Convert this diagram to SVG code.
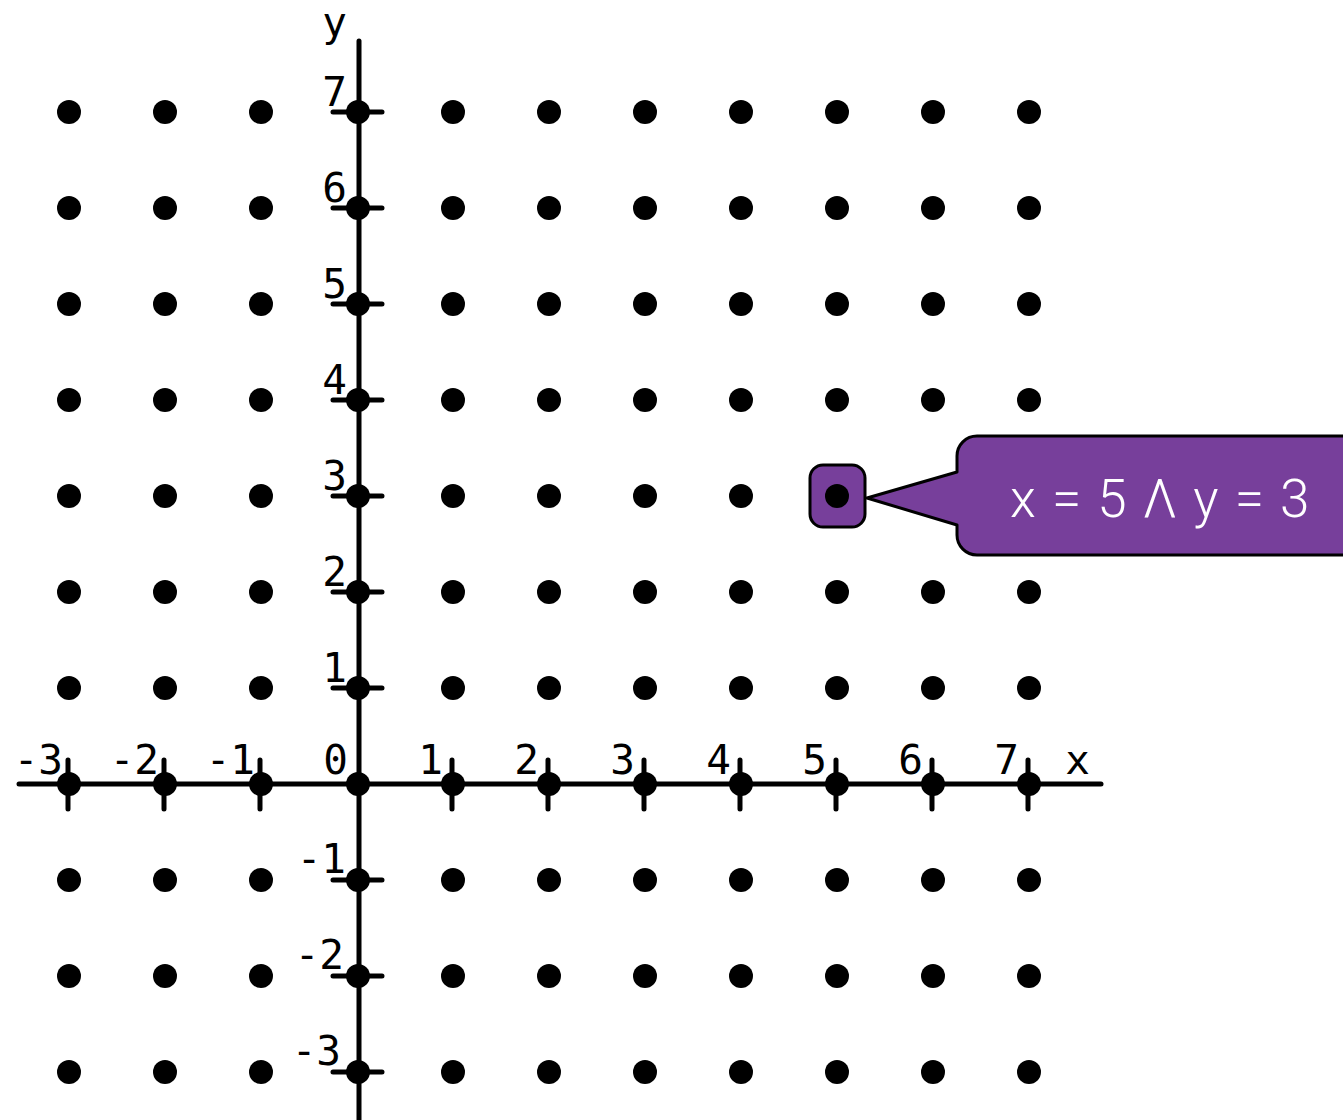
<svg xmlns="http://www.w3.org/2000/svg" width="1343" height="1120" viewBox="0 0 1343 1120">
<style>
.ax{stroke:#000;stroke-width:5;stroke-linecap:round;fill:none}
.tk{stroke:#000;stroke-width:5;stroke-linecap:round}
.dot{fill:#000}
.lx{font-family:"DejaVu Sans Mono",monospace;font-size:41px;fill:#000;text-anchor:end}
.cl{font-family:Roboto,"Noto Sans",sans-serif;font-weight:300;font-size:53px;letter-spacing:1.6px;fill:#fff}
</style>
<rect width="1343" height="1120" fill="#fff"/>
<g id="connectors">
<line class="ax" x1="19" y1="784" x2="1101" y2="784"/>
<line class="ax" x1="359" y1="41" x2="359" y2="1122"/>
</g>
<g id="ticks">
<path class="tk" d="M68 760V809M164 760V809M260 760V809M452 760V809M548 760V809M644 760V809M740 760V809M836 760V809M932 760V809M1028 760V809"/>
<path class="tk" d="M333 112H382M333 208H382M333 304H382M333 400H382M333 496H382M333 592H382M333 688H382M333 880H382M333 976H382M333 1072H382"/>
</g>
<g id="labels" class="lx">
<text x="63" y="774">-3</text><text x="159" y="774">-2</text><text x="255" y="774">-1</text><text x="348" y="774">0</text>
<text x="443" y="774">1</text><text x="539" y="774">2</text><text x="635" y="774">3</text><text x="731" y="774">4</text>
<text x="827" y="774">5</text><text x="923" y="774">6</text><text x="1019" y="774">7</text>
<text x="1090" y="774">x</text>
<text x="347" y="36">y</text>
<text x="347" y="106">7</text><text x="347" y="202">6</text><text x="347" y="298">5</text><text x="347" y="394">4</text>
<text x="347" y="490">3</text><text x="347" y="586">2</text><text x="347" y="682">1</text>
<text x="346" y="873">-1</text><text x="344" y="969">-2</text><text x="341" y="1065">-3</text>
</g>
<g id="callout">
<path d="M977 436H1362V555H977A20 20 0 0 1 957 535V525L867 498L957 472V456A20 20 0 0 1 977 436Z" fill="#773f9b" stroke="#000" stroke-width="3" stroke-linejoin="round"/>
<rect x="810" y="465" width="55" height="62" rx="13" fill="#773f9b" stroke="#000" stroke-width="3"/>
<text class="cl" x="1010" y="517">x = 5 Λ y = 3</text>
</g>
<g id="dots" class="dot">
<g id="r7"><circle cx="69" cy="112" r="12"/><circle cx="165" cy="112" r="12"/><circle cx="261" cy="112" r="12"/><circle cx="358" cy="112" r="12"/><circle cx="453" cy="112" r="12"/><circle cx="549" cy="112" r="12"/><circle cx="645" cy="112" r="12"/><circle cx="741" cy="112" r="12"/><circle cx="837" cy="112" r="12"/><circle cx="933" cy="112" r="12"/><circle cx="1029" cy="112" r="12"/></g>
<g id="r6"><circle cx="69" cy="208" r="12"/><circle cx="165" cy="208" r="12"/><circle cx="261" cy="208" r="12"/><circle cx="358" cy="208" r="12"/><circle cx="453" cy="208" r="12"/><circle cx="549" cy="208" r="12"/><circle cx="645" cy="208" r="12"/><circle cx="741" cy="208" r="12"/><circle cx="837" cy="208" r="12"/><circle cx="933" cy="208" r="12"/><circle cx="1029" cy="208" r="12"/></g>
<g id="r5"><circle cx="69" cy="304" r="12"/><circle cx="165" cy="304" r="12"/><circle cx="261" cy="304" r="12"/><circle cx="358" cy="304" r="12"/><circle cx="453" cy="304" r="12"/><circle cx="549" cy="304" r="12"/><circle cx="645" cy="304" r="12"/><circle cx="741" cy="304" r="12"/><circle cx="837" cy="304" r="12"/><circle cx="933" cy="304" r="12"/><circle cx="1029" cy="304" r="12"/></g>
<g id="r4"><circle cx="69" cy="400" r="12"/><circle cx="165" cy="400" r="12"/><circle cx="261" cy="400" r="12"/><circle cx="358" cy="400" r="12"/><circle cx="453" cy="400" r="12"/><circle cx="549" cy="400" r="12"/><circle cx="645" cy="400" r="12"/><circle cx="741" cy="400" r="12"/><circle cx="837" cy="400" r="12"/><circle cx="933" cy="400" r="12"/><circle cx="1029" cy="400" r="12"/></g>
<g id="r3"><circle cx="69" cy="496" r="12"/><circle cx="165" cy="496" r="12"/><circle cx="261" cy="496" r="12"/><circle cx="358" cy="496" r="12"/><circle cx="453" cy="496" r="12"/><circle cx="549" cy="496" r="12"/><circle cx="645" cy="496" r="12"/><circle cx="741" cy="496" r="12"/><circle cx="837" cy="496" r="12"/></g>
<g id="r2"><circle cx="69" cy="592" r="12"/><circle cx="165" cy="592" r="12"/><circle cx="261" cy="592" r="12"/><circle cx="358" cy="592" r="12"/><circle cx="453" cy="592" r="12"/><circle cx="549" cy="592" r="12"/><circle cx="645" cy="592" r="12"/><circle cx="741" cy="592" r="12"/><circle cx="837" cy="592" r="12"/><circle cx="933" cy="592" r="12"/><circle cx="1029" cy="592" r="12"/></g>
<g id="r1"><circle cx="69" cy="688" r="12"/><circle cx="165" cy="688" r="12"/><circle cx="261" cy="688" r="12"/><circle cx="358" cy="688" r="12"/><circle cx="453" cy="688" r="12"/><circle cx="549" cy="688" r="12"/><circle cx="645" cy="688" r="12"/><circle cx="741" cy="688" r="12"/><circle cx="837" cy="688" r="12"/><circle cx="933" cy="688" r="12"/><circle cx="1029" cy="688" r="12"/></g>
<g id="r0"><circle cx="69" cy="784" r="12"/><circle cx="165" cy="784" r="12"/><circle cx="261" cy="784" r="12"/><circle cx="358" cy="784" r="12"/><circle cx="453" cy="784" r="12"/><circle cx="549" cy="784" r="12"/><circle cx="645" cy="784" r="12"/><circle cx="741" cy="784" r="12"/><circle cx="837" cy="784" r="12"/><circle cx="933" cy="784" r="12"/><circle cx="1029" cy="784" r="12"/></g>
<g id="rm1"><circle cx="69" cy="880" r="12"/><circle cx="165" cy="880" r="12"/><circle cx="261" cy="880" r="12"/><circle cx="358" cy="880" r="12"/><circle cx="453" cy="880" r="12"/><circle cx="549" cy="880" r="12"/><circle cx="645" cy="880" r="12"/><circle cx="741" cy="880" r="12"/><circle cx="837" cy="880" r="12"/><circle cx="933" cy="880" r="12"/><circle cx="1029" cy="880" r="12"/></g>
<g id="rm2"><circle cx="69" cy="976" r="12"/><circle cx="165" cy="976" r="12"/><circle cx="261" cy="976" r="12"/><circle cx="358" cy="976" r="12"/><circle cx="453" cy="976" r="12"/><circle cx="549" cy="976" r="12"/><circle cx="645" cy="976" r="12"/><circle cx="741" cy="976" r="12"/><circle cx="837" cy="976" r="12"/><circle cx="933" cy="976" r="12"/><circle cx="1029" cy="976" r="12"/></g>
<g id="rm3"><circle cx="69" cy="1072" r="12"/><circle cx="165" cy="1072" r="12"/><circle cx="261" cy="1072" r="12"/><circle cx="358" cy="1072" r="12"/><circle cx="453" cy="1072" r="12"/><circle cx="549" cy="1072" r="12"/><circle cx="645" cy="1072" r="12"/><circle cx="741" cy="1072" r="12"/><circle cx="837" cy="1072" r="12"/><circle cx="933" cy="1072" r="12"/><circle cx="1029" cy="1072" r="12"/></g>
</g>
</svg>
